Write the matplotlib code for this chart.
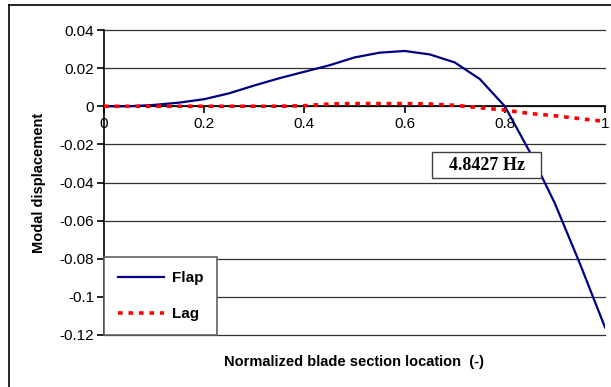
import matplotlib.pyplot as plt
from matplotlib.lines import Line2D
from matplotlib.patches import Rectangle

# blade section positions and mode shape values
x_flap = [0.0, 0.05, 0.1, 0.15, 0.2, 0.25, 0.3, 0.35, 0.4, 0.45, 0.5,
          0.55, 0.6, 0.65, 0.7, 0.75, 0.8, 0.85, 0.9, 0.95, 1.0]
flap = [0.0, 0.0, 0.0007, 0.0019, 0.0037, 0.0068, 0.0109, 0.0147, 0.0181,
        0.0215, 0.0256, 0.0281, 0.0290, 0.0272, 0.0230, 0.0143, 0.0,
        -0.024, -0.051, -0.0826, -0.116]

x_lag = [0.0, 0.1, 0.2, 0.3, 0.35, 0.4, 0.45, 0.5, 0.6, 0.65, 0.7, 0.72,
         0.75, 0.8, 0.85, 0.9, 0.95, 1.0]
lag = [0.0, 0.0, 0.0, 0.0, 0.0, 0.0003, 0.0012, 0.0014, 0.0014, 0.0012,
       0.0005, 0.0, -0.0008, -0.002, -0.0038, -0.005, -0.0065, -0.008]

yticks = [0.04, 0.02, 0, -0.02, -0.04, -0.06, -0.08, -0.1, -0.12]
ylabels = ["0.04", "0.02", "0", "-0.02", "-0.04", "-0.06", "-0.08", "-0.1", "-0.12"]
xticks = [0, 0.2, 0.4, 0.6, 0.8, 1]
xlabels = ["0", "0.2", "0.4", "0.6", "0.8", "1"]
freq_text = "4.8427 Hz"

plt.rcParams['font.family'] = ['Liberation Sans', 'DejaVu Sans']

fig = plt.figure(figsize=(6.11, 3.87), dpi=100)
ax = fig.add_axes([104 / 611, 1 - 335 / 387, 501 / 611, 305 / 387])

# horizontal gridlines
for y in yticks:
    ax.axhline(y, color='#303030', lw=0.9, zorder=1, clip_on=False)

ax.plot(x_flap, flap, color='#000080', lw=1.6, label='Flap', zorder=3,
        solid_joinstyle='round')
ax.plot(x_lag, lag, color='#ff0000', lw=2.6, dashes=(1.3, 1.6),
        label='Lag', zorder=3)

ax.set_xlim(0, 1)
ax.set_ylim(-0.12, 0.04)

ax.spines['top'].set_visible(False)
ax.spines['right'].set_visible(False)
ax.spines['bottom'].set_position(('data', 0))
ax.spines['left'].set_linewidth(1.2)
ax.spines['bottom'].set_linewidth(1.2)

ax.set_yticks(yticks)
ax.set_yticklabels(ylabels, fontsize=11)
ax.set_xticks(xticks)
ax.set_xticklabels(xlabels, fontsize=11)
ax.tick_params(axis='both', direction='out', length=5, width=1.2)
ax.tick_params(axis='x', pad=3)
ax.tick_params(axis='y', pad=2)

ax.set_xlabel("Normalized blade section location  (-)", fontsize=10.5,
              fontweight='bold', va='center')
ax.xaxis.set_label_coords(0.5, -27 / 305)
ax.set_ylabel("Modal displacement", fontsize=10.5, fontweight='bold',
              labelpad=10)

# frequency label in a plain box
ax.add_patch(Rectangle((0.655, -0.0378), 0.2175, 0.0136, fc='white',
                       ec='#404040', lw=1, zorder=5))
ax.text(0.7635, -0.031, freq_text, family=['Liberation Serif', 'DejaVu Serif'],
        fontsize=13, fontweight='bold', ha='center', va='center', zorder=6)

leg = ax.legend(loc='lower left', bbox_to_anchor=(0, 0), borderaxespad=0,
                prop={'weight': 'bold', 'size': 11}, handlelength=3.0,
                labelspacing=1.45, borderpad=0.9, handletextpad=0.55,
                fancybox=False, framealpha=1, edgecolor='#606060')
leg.get_frame().set_linewidth(1.2)
leg.set_zorder(6)

# outer chart border (top and left edges)
fig.add_artist(Line2D([9 / 611, 1], [1 - 5 / 387, 1 - 5 / 387],
                      color='black', lw=1.2))
fig.add_artist(Line2D([9 / 611, 9 / 611], [0, 1 - 5 / 387],
                      color='black', lw=1.2))

fig.savefig("out.png", dpi=100)
